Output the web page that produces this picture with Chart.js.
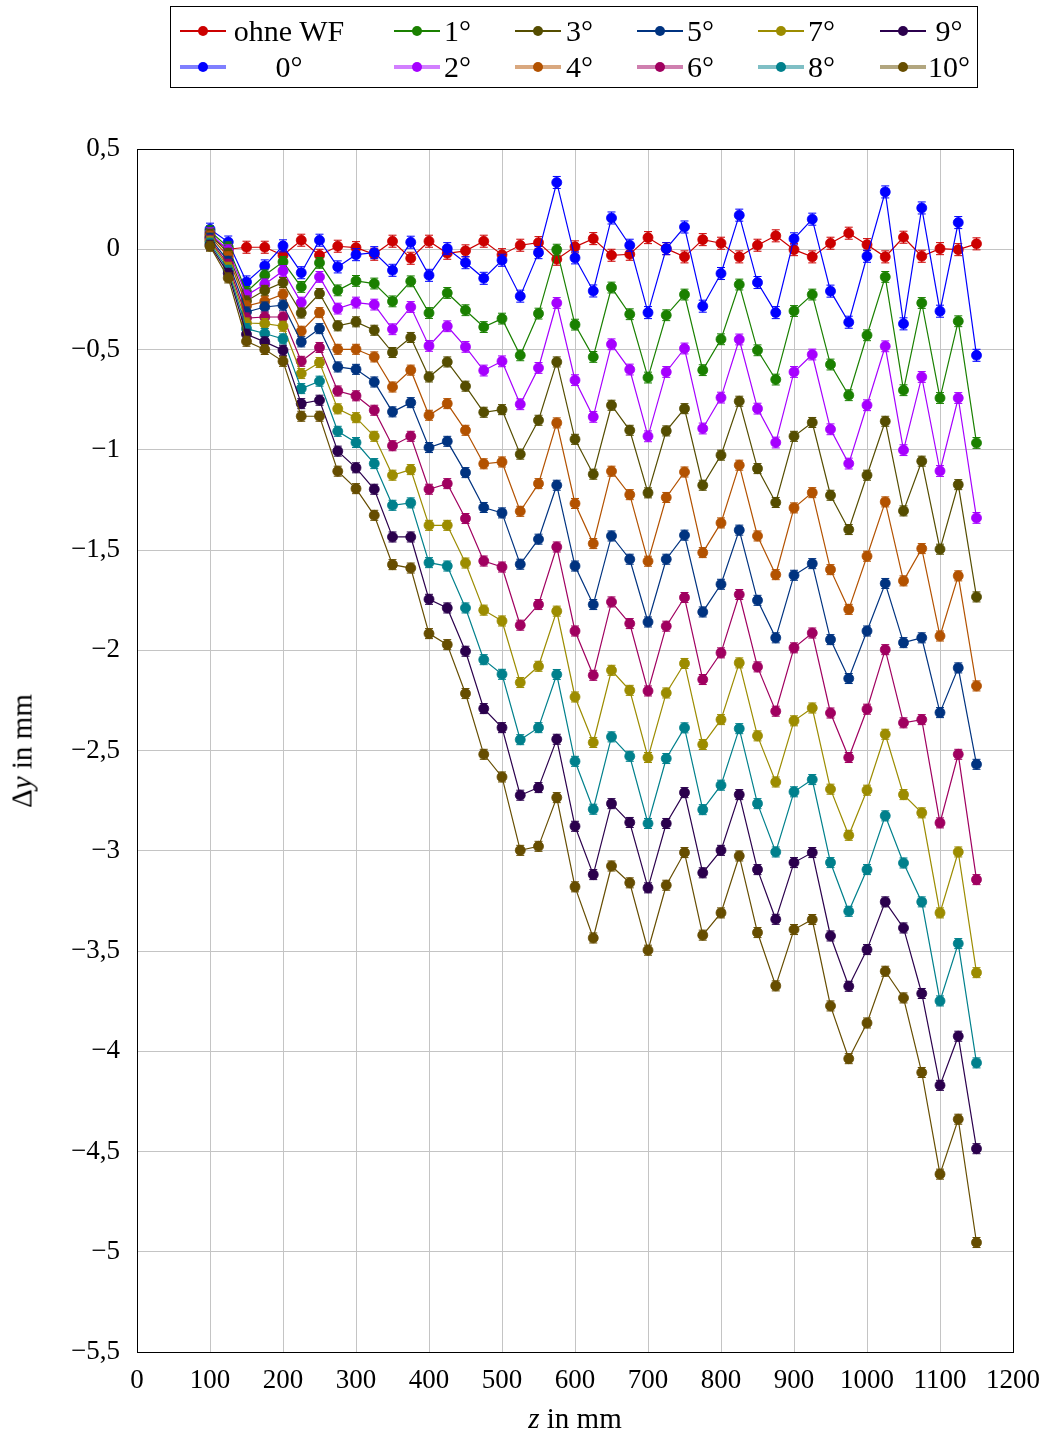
<!DOCTYPE html>
<html>
<head>
<meta charset="utf-8">
<script src="https://cdn.jsdelivr.net/npm/chart.js@4.4.0/dist/chart.umd.min.js"></script>
<style>
    html, body { margin: 0; padding: 0; background: #fff; }
    #wrap { position: relative; width: 1047px; height: 1434px; font-family: "Liberation Serif", serif; }
    #chart { position: absolute; left: 0; top: 0; }
    #legend { position: absolute; left: 170px; top: 6px; width: 808px; height: 82px; border: 1px solid #000; box-sizing: border-box; }
    .entry { position: absolute; height: 30px; }
    .sample { position: absolute; top: 15px; width: 46px; }
    .sample .ln { position: absolute; left: 0; width: 46px; }
    .sample .dot { position: absolute; left: 18px; top: -5px; width: 10px; height: 10px; border-radius: 50%; }
    .txt { position: absolute; top: 0; line-height: 30px; font-size: 30px; text-align: center; white-space: nowrap; }
    .axtitle { position: absolute; font-size: 29px; white-space: nowrap; transform: translate(-50%, -50%); }
</style>
</head>
<body>
<div id="wrap">
    <canvas id="chart" width="1047" height="1434"></canvas>
    <div id="legend"></div>
    <div class="axtitle" style="left:22px; top:751px; transform: translate(-50%, -50%) rotate(-90deg);">Δ<i>y</i> in mm</div>
    <div class="axtitle" style="left:575px; top:1418px;"><i>z</i> in mm</div>
</div>
<script>
// z positions (mm)
const zValues = [100, 125, 150, 175, 200, 225, 250, 275, 300, 325, 350, 375, 400, 425, 450, 475, 500,
    525, 550, 575, 600, 625, 650, 675, 700, 725, 750, 775, 800, 825, 850, 875, 900, 925, 950, 975,
    1000, 1025, 1050, 1075, 1100, 1125, 1150];

// measured Δy (mm) per series
const ohneWF = [0.06, 0.0, 0.01, 0.01, -0.03, 0.045, -0.03, 0.015, 0.008, -0.025, 0.04, -0.045, 0.04, -0.02,
    -0.008, 0.04, -0.027, 0.02, 0.033, -0.05, 0.012, 0.053, -0.03, -0.025, 0.058, 0.003, -0.038, 0.048, 0.03,
    -0.038, 0.02, 0.067, -0.002, -0.038, 0.03, 0.08, 0.023, -0.038, 0.06, -0.035, 0.003, -0.002, 0.027];
const deg0 = [0.1, 0.036, -0.163, -0.083, 0.017, -0.117, 0.045, -0.088, -0.027, -0.017, -0.105, 0.035, -0.13,
    0.003, -0.067, -0.145, -0.055, -0.234, -0.017, 0.333, -0.043, -0.208, 0.156, 0.02, -0.316, 0.003, 0.111,
    -0.284, -0.121, 0.17, -0.166, -0.316, 0.052, 0.15, -0.209, -0.364, -0.035, 0.286, -0.372, 0.206, -0.309,
    0.133, -0.529];
const deg1 = [0.09, 0.01, -0.213, -0.13, -0.063, -0.188, -0.068, -0.205, -0.158, -0.171, -0.26, -0.16, -0.318,
    -0.218, -0.304, -0.388, -0.346, -0.529, -0.321, -0.002, -0.376, -0.537, -0.191, -0.324, -0.64, -0.329,
    -0.226, -0.603, -0.449, -0.176, -0.504, -0.65, -0.308, -0.226, -0.575, -0.728, -0.429, -0.138, -0.703,
    -0.268, -0.742, -0.359, -0.966];
const deg2 = [0.08, -0.005, -0.23, -0.175, -0.108, -0.266, -0.138, -0.296, -0.266, -0.276, -0.399, -0.288,
    -0.482, -0.384, -0.487, -0.605, -0.559, -0.773, -0.592, -0.268, -0.653, -0.836, -0.474, -0.6, -0.933,
    -0.612, -0.495, -0.894, -0.74, -0.45, -0.795, -0.964, -0.612, -0.525, -0.898, -1.069, -0.778, -0.484,
    -1.002, -0.637, -1.106, -0.742, -1.34];
const deg3 = [0.075, -0.02, -0.258, -0.205, -0.166, -0.318, -0.221, -0.382, -0.362, -0.404, -0.515, -0.44,
    -0.637, -0.562, -0.683, -0.813, -0.8, -1.022, -0.853, -0.562, -0.948, -1.122, -0.778, -0.903, -1.215,
    -0.906, -0.795, -1.177, -1.027, -0.758, -1.094, -1.263, -0.933, -0.864, -1.227, -1.398, -1.127, -0.858,
    -1.305, -1.057, -1.496, -1.174, -1.734];
const deg4 = [0.065, -0.038, -0.283, -0.26, -0.224, -0.409, -0.316, -0.499, -0.499, -0.537, -0.687, -0.603,
    -0.828, -0.77, -0.903, -1.07, -1.061, -1.307, -1.169, -0.866, -1.268, -1.468, -1.107, -1.224, -1.556,
    -1.238, -1.111, -1.513, -1.365, -1.077, -1.43, -1.623, -1.29, -1.214, -1.598, -1.796, -1.531, -1.26,
    -1.654, -1.493, -1.929, -1.629, -2.178];
const deg5 = [0.055, -0.06, -0.313, -0.288, -0.279, -0.462, -0.396, -0.587, -0.599, -0.662, -0.811, -0.765,
    -0.989, -0.958, -1.114, -1.288, -1.315, -1.571, -1.446, -1.177, -1.58, -1.772, -1.43, -1.546, -1.859,
    -1.546, -1.426, -1.809, -1.671, -1.401, -1.751, -1.938, -1.626, -1.568, -1.947, -2.141, -1.904, -1.667,
    -1.962, -1.938, -2.311, -2.088, -2.569];
const deg6 = [0.045, -0.075, -0.343, -0.338, -0.338, -0.559, -0.49, -0.707, -0.731, -0.803, -0.98, -0.933,
    -1.197, -1.169, -1.343, -1.555, -1.585, -1.875, -1.772, -1.485, -1.904, -2.125, -1.759, -1.867, -2.203,
    -1.88, -1.737, -2.146, -2.013, -1.722, -2.083, -2.304, -1.988, -1.914, -2.313, -2.535, -2.294, -1.997,
    -2.362, -2.346, -2.861, -2.519, -3.144];
const deg7 = [0.04, -0.09, -0.368, -0.371, -0.384, -0.62, -0.565, -0.796, -0.84, -0.933, -1.127, -1.099,
    -1.377, -1.377, -1.565, -1.8, -1.854, -2.161, -2.08, -1.805, -2.233, -2.46, -2.1, -2.2, -2.535, -2.213,
    -2.066, -2.47, -2.346, -2.063, -2.427, -2.657, -2.352, -2.288, -2.693, -2.923, -2.698, -2.419, -2.72,
    -2.811, -3.31, -3.006, -3.608];
const deg8 = [0.03, -0.105, -0.396, -0.42, -0.447, -0.695, -0.658, -0.908, -0.964, -1.069, -1.277, -1.265,
    -1.563, -1.58, -1.789, -2.047, -2.12, -2.446, -2.386, -2.121, -2.554, -2.793, -2.432, -2.529, -2.864,
    -2.54, -2.387, -2.795, -2.673, -2.391, -2.765, -3.006, -2.706, -2.645, -3.059, -3.302, -3.094, -2.826,
    -3.061, -3.255, -3.749, -3.463, -4.058];
const deg9 = [0.02, -0.12, -0.424, -0.462, -0.504, -0.77, -0.753, -1.007, -1.09, -1.197, -1.435, -1.435,
    -1.746, -1.789, -2.005, -2.291, -2.386, -2.723, -2.685, -2.444, -2.878, -3.119, -2.765, -2.859, -3.185,
    -2.864, -2.71, -3.11, -2.998, -2.72, -3.094, -3.342, -3.059, -3.009, -3.425, -3.676, -3.493, -3.255,
    -3.385, -3.712, -4.17, -3.925, -4.486];
const deg10 = [0.015, -0.143, -0.459, -0.5, -0.559, -0.833, -0.833, -1.107, -1.194, -1.327, -1.573, -1.59,
    -1.917, -1.972, -2.216, -2.519, -2.632, -2.998, -2.978, -2.735, -3.18, -3.435, -3.076, -3.16, -3.496,
    -3.172, -3.009, -3.421, -3.31, -3.026, -3.408, -3.674, -3.393, -3.343, -3.774, -4.037, -3.859, -3.601,
    -3.734, -4.106, -4.613, -4.339, -4.954];

const seriesNames = ['ohne WF', '0°', '1°', '2°', '3°', '4°', '5°', '6°', '7°', '8°', '9°', '10°'];
const seriesValues = [ohneWF, deg0, deg1, deg2, deg3, deg4, deg5, deg6, deg7, deg8, deg9, deg10];
const seriesColors = ['#cc0000', '#0000ff', '#1a8000', '#a600ff', '#554d00', '#b35200',
    '#003380', '#a00060', '#9c8c00', '#00808c', '#2b004d', '#664d00'];
// half width of the error bars (mm)
const errHalf = [0.03, 0.03, 0.027, 0.027, 0.025, 0.025, 0.025, 0.025, 0.025, 0.025, 0.025, 0.025];

// Build the legend (two rows, six columns, filled column by column)
function buildLegend() {
    const legend = document.getElementById('legend');
    const colLeft = [9, 223, 344, 466, 587, 709];
    const textLeft = [58, 273, 395, 516, 637, 757];
    const textWidth = [120, 26, 26, 26, 26, 42];
    seriesNames.forEach((name, i) => {
        const col = Math.floor(i / 2);
        const row = i % 2;
        const entry = document.createElement('div');
        entry.className = 'entry';
        entry.style.left = '0px';
        entry.style.top = (row === 0 ? 9 : 45) + 'px';

        const sample = document.createElement('div');
        sample.className = 'sample';
        sample.style.left = colLeft[col] + 'px';
        const ln = document.createElement('div');
        ln.className = 'ln';
        if (row === 0) {
            ln.style.top = '-0.6px';
            ln.style.height = '1.2px';
            ln.style.background = seriesColors[i];
        } else {
            ln.style.top = '-2px';
            ln.style.height = '4px';
            ln.style.background = seriesColors[i];
            ln.style.opacity = '0.5';
        }
        const dot = document.createElement('div');
        dot.className = 'dot';
        dot.style.background = seriesColors[i];
        sample.appendChild(ln);
        sample.appendChild(dot);

        const txt = document.createElement('div');
        txt.className = 'txt';
        txt.style.left = textLeft[col] + 'px';
        txt.style.width = textWidth[col] + 'px';
        txt.textContent = name;

        entry.appendChild(sample);
        entry.appendChild(txt);
        legend.appendChild(entry);
    });
}

// Error bars drawn under each dataset
const errorBars = {
    id: 'errorBars',
    beforeDatasetDraw(chart, args) {
        const ds = chart.data.datasets[args.index];
        const yScale = chart.scales.y;
        const ctx = chart.ctx;
        ctx.save();
        ctx.strokeStyle = ds.borderColor;
        ctx.lineWidth = 1;
        args.meta.data.forEach((pt, j) => {
            const v = ds.data[j].y;
            const top = yScale.getPixelForValue(v + ds.errHalf);
            const bot = yScale.getPixelForValue(v - ds.errHalf);
            ctx.beginPath();
            ctx.moveTo(pt.x, top);
            ctx.lineTo(pt.x, bot);
            ctx.moveTo(pt.x - 4, top);
            ctx.lineTo(pt.x + 4, top);
            ctx.moveTo(pt.x - 4, bot);
            ctx.lineTo(pt.x + 4, bot);
            ctx.stroke();
        });
        ctx.restore();
    }
};

// Black frame around the plot area
const frame = {
    id: 'frame',
    beforeDatasetsDraw(chart) {
        const a = chart.chartArea;
        const ctx = chart.ctx;
        ctx.save();
        ctx.strokeStyle = '#000';
        ctx.lineWidth = 1;
        ctx.strokeRect(Math.round(a.left) + 0.5, Math.round(a.top) + 0.5,
            Math.round(a.right - a.left), Math.round(a.bottom - a.top));
        ctx.restore();
    }
};

function formatTick(value) {
    let s = Number.isInteger(value) ? String(value) : value.toFixed(1).replace('.', ',');
    return s.replace('-', '\u2212');
}

const tickFont = { family: 'Liberation Serif', size: 27 };

try {
    buildLegend();
    const ctx = document.getElementById('chart').getContext('2d');
    new Chart(ctx, {
        type: 'line',
        data: {
            datasets: seriesValues.map((vals, i) => ({
                label: seriesNames[i],
                data: zValues.map((z, j) => ({ x: z, y: vals[j] })),
                borderColor: seriesColors[i],
                backgroundColor: seriesColors[i],
                pointBackgroundColor: seriesColors[i],
                pointBorderColor: seriesColors[i],
                pointRadius: 5,
                pointBorderWidth: 0.8,
                borderWidth: 1.2,
                tension: 0,
                order: -i,
                errHalf: errHalf[i]
            }))
        },
        options: {
            responsive: false,
            animation: false,
            layout: { padding: { top: 149, right: 34, left: 0, bottom: 0 } },
            plugins: {
                legend: { display: false },
                tooltip: { enabled: false }
            },
            scales: {
                x: {
                    type: 'linear',
                    min: 0,
                    max: 1200,
                    afterFit(scale) {
                        scale.height = 82;
                        scale.paddingLeft = 0;
                        scale.paddingRight = 0;
                    },
                    ticks: { stepSize: 100, color: '#000', font: tickFont, padding: 13, maxRotation: 0,
                        callback: formatTick },
                    grid: { color: '#c4c4c4', drawTicks: false },
                    border: { color: '#000' }
                },
                y: {
                    type: 'linear',
                    min: -5.5,
                    max: 0.5,
                    afterFit(scale) { scale.width = 137; },
                    ticks: { stepSize: 0.5, color: '#000', font: tickFont, padding: 17, callback: formatTick },
                    grid: { color: '#c4c4c4', drawTicks: false },
                    border: { color: '#000' }
                }
            }
        },
        plugins: [frame, errorBars]
    });
} catch (error) {
    console.error('Error drawing chart:', error);
}
</script>
</body>
</html>
